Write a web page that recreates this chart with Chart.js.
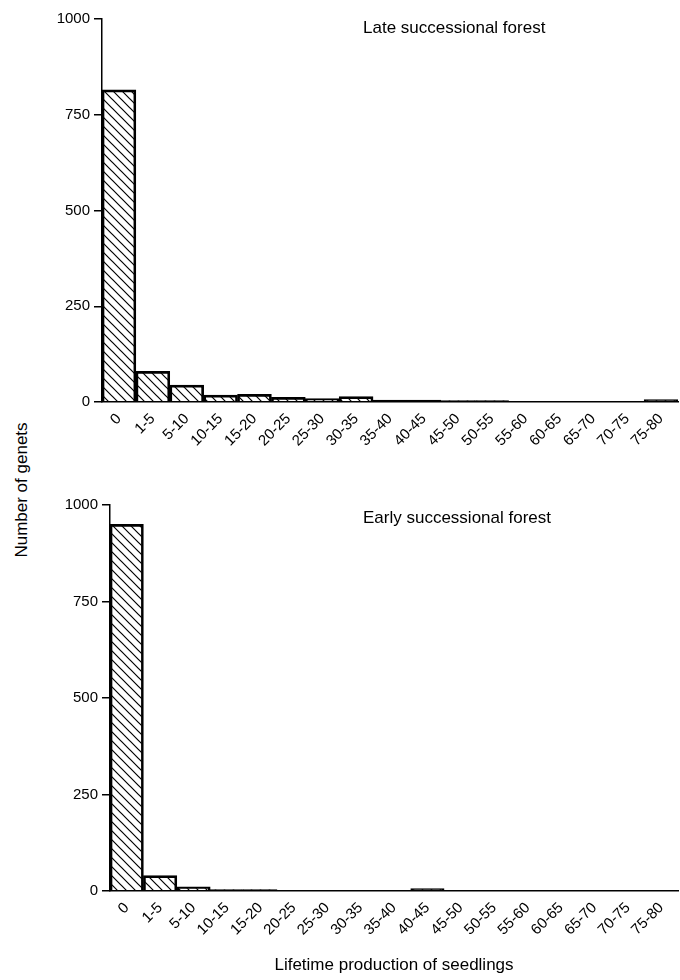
<!DOCTYPE html>
<html lang="en">
<head>
  <meta charset="UTF-8" />
  <title>Lifetime production of seedlings</title>
  <script src="https://cdn.jsdelivr.net/npm/chart.js"></script>
  <style>
    body {
      margin: 0;
      background: #fff;
      font-family: 'Liberation Sans', Arial, sans-serif;
      color: #000;
    }
    .page {
      position: relative;
      width: 680px;
      height: 980px;
    }
    .panel {
      position: absolute;
      left: 40px;
      width: 640px;
    }
    .label {
      position: absolute;
      font-size: 17px;
      white-space: nowrap;
    }
    .ytitle {
      position: absolute;
      left: 22px;
      top: 490px;
      font-size: 17px;
      white-space: nowrap;
      transform: translate(-50%, -50%) rotate(-90deg);
    }
  </style>
</head>
<body>
  <div class="page">
    <div class="panel" style="top:0; height:459px;"><canvas id="late"></canvas></div>
    <div class="panel" style="top:480px; height:500px;"><canvas id="early"></canvas></div>
    <div class="label" style="left:363px; top:18px;">Late successional forest</div>
    <div class="label" style="left:363px; top:508px;">Early successional forest</div>
    <div class="ytitle">Number of genets</div>
  </div>

  <script>
// values
const categories = ['0', '1-5', '5-10', '10-15', '15-20', '20-25', '25-30', '30-35', '35-40',
  '40-45', '45-50', '50-55', '55-60', '60-65', '65-70', '70-75', '75-80'];
const lateValues = [815, 80, 44, 18, 20, 12, 9, 14, 5, 5, 4, 4, 1, 1, 1, 1, 6];
const earlyValues = [950, 40, 11, 4, 4, 1, 1, 1, 1, 6, 1, 1, 1, 1, 1, 1, 1];
const yTicks = [0, 250, 500, 750, 1000];

// diagonal "\" hatch fill
function hatch(ctx) {
  const c = document.createElement('canvas');
  c.width = 9;
  c.height = 9;
  const g = c.getContext('2d');
  g.strokeStyle = '#000';
  g.lineWidth = 1.2;
  g.beginPath();
  g.moveTo(0, 0); g.lineTo(9, 9);
  g.moveTo(-1, 8); g.lineTo(1, 10);
  g.moveTo(8, -1); g.lineTo(10, 1);
  g.stroke();
  return ctx.createPattern(c, 'repeat');
}

function makeChart(id, values, yWidth, xHeight, padTop, showTitle) {
  const ctx = document.getElementById(id).getContext('2d');
  return new Chart(ctx, {
    type: 'bar',
    data: {
      labels: categories,
      datasets: [{
        data: values,
        backgroundColor: hatch(ctx),
        borderColor: '#000',
        borderWidth: 2,
        categoryPercentage: 1,
        barPercentage: 1
      }]
    },
    options: {
      responsive: true,
      maintainAspectRatio: false,
      animation: false,
      layout: { padding: { top: padTop, right: 2 } },
      plugins: { legend: { display: false }, tooltip: { enabled: false } },
      scales: {
        x: {
          afterFit: (s) => { s.height = xHeight; },
          grid: { display: false },
          border: { display: true, color: '#000', width: 1.5 },
          ticks: {
            color: '#000',
            font: { family: 'Liberation Sans', size: 15 },
            maxRotation: 45,
            minRotation: 45,
            autoSkip: false,
            padding: 0
          },
          title: {
            display: showTitle,
            text: 'Lifetime production of seedlings',
            color: '#000',
            font: { family: 'Liberation Sans', size: 17 },
            padding: { top: 8 }
          }
        },
        y: {
          min: 0,
          max: 1000,
          afterBuildTicks: (s) => { s.ticks = yTicks.map(v => ({ value: v })); },
          afterFit: (s) => { s.width = yWidth; },
          grid: { drawOnChartArea: false, color: '#000', tickLength: 8, lineWidth: 1.5 },
          border: { display: true, color: '#000', width: 1.5 },
          ticks: {
            color: '#000',
            font: { family: 'Liberation Sans', size: 15 },
            padding: 4,
            callback: (v) => String(v)
          }
        }
      }
    }
  });
}

makeChart('late', lateValues, 62, 57, 19, false);
makeChart('early', earlyValues, 70, 89, 25, true);
</script>
</body>
</html>
